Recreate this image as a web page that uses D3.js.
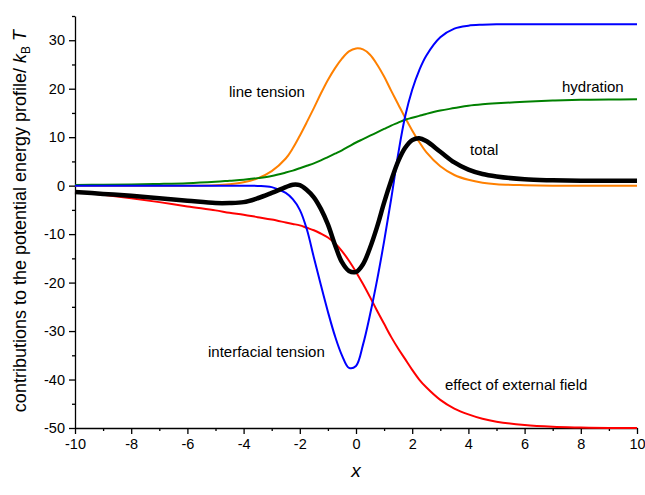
<!DOCTYPE html>
<html>
<head>
<meta charset="utf-8">
<script src="https://cdn.jsdelivr.net/npm/d3@7"></script>
<style>
  body { margin: 0; background: #fff; }
  svg { font-family: "Liberation Sans", Arial, sans-serif; }
</style>
</head>
<body>
<svg id="svg" width="645" height="495"></svg>
<script>
const xs = [-10, -9, -8, -7, -6, -5, -4.5, -4, -3.5, -3, -2.5, -2.25, -2, -1.75, -1.5, -1.25, -1, -0.75, -0.5, -0.25,
  0, 0.25, 0.5, 0.75, 1, 1.25, 1.5, 1.75, 2, 2.25, 2.5, 3, 3.5, 4, 4.5, 5, 6, 7, 8, 9, 10];

const lineTension = [0, 0, 0, 0, 0, 0.1, 0.3, 0.7, 1.5, 3.0, 5.6, 7.7, 10.3, 13.1, 16.0, 19.0, 21.8, 24.2, 26.2, 27.7,
  28.3, 28.1, 27.0, 25.0, 22.5, 19.6, 16.8, 14.0, 11.4, 9.0, 6.9, 4.0, 2.2, 1.2, 0.6, 0.3, 0.1, 0, 0, 0, 0];

const hydration = [0.15, 0.2, 0.25, 0.35, 0.5, 0.8, 1.0, 1.2, 1.55, 2.0, 2.7, 3.1, 3.6, 4.1, 4.6, 5.2, 5.9, 6.6, 7.3, 8.1,
  8.9, 9.6, 10.3, 11.0, 11.7, 12.4, 13.0, 13.6, 14.0, 14.4, 14.8, 15.5, 16.0, 16.5, 16.8, 17.0, 17.3, 17.55, 17.7, 17.75, 17.8];

const externalField = [-1.2, -1.9, -2.6, -3.4, -4.3, -5.1, -5.6, -6.0, -6.5, -7.0, -7.6, -7.9, -8.2, -8.7, -9.2, -9.9, -10.7, -11.9, -13.5, -15.5,
  -17.8, -20.3, -23.0, -25.8, -28.5, -31.2, -33.6, -35.8, -38.0, -40.0, -41.6, -44.2, -46.0, -47.2, -48.1, -48.7, -49.4, -49.75, -49.9, -50, -50];

const interfacialTension = [0, 0, 0, 0, 0, 0, 0, 0, -0.05, -0.3, -1.5, -2.8, -5.0, -9.0, -14.8, -20.5, -26.0, -31.0, -35.0, -37.6,
  -37.2, -32.8, -26.6, -19.5, -11.5, -2.8, 6.5, 14.3, 19.8, 23.8, 26.8, 30.6, 32.4, 33.0, 33.2, 33.3, 33.3, 33.3, 33.3, 33.3, 33.3];

const total = [-1.3, -1.7, -2.1, -2.6, -3.1, -3.6, -3.6, -3.4, -2.6, -1.5, -0.3, 0.2, 0.1, -0.9, -2.4, -4.8, -8.0, -12.2, -15.8, -17.6,
  -17.8, -16.2, -12.8, -8.5, -3.5, 1.0, 5.0, 7.8, 9.4, 9.8, 9.2, 7.0, 4.8, 3.3, 2.4, 1.9, 1.3, 1.1, 1.0, 1.0, 1.0];

const xTicks = [-10, -8, -6, -4, -2, 0, 2, 4, 6, 8, 10];
const yTicks = [-50, -40, -30, -20, -10, 0, 10, 20, 30];

const svg = d3.select("#svg");

const x = d3.scaleLinear().domain([-10, 10]).range([75, 637]);
const y = d3.scaleLinear().domain([-50, 35]).range([428, 16]);

// axes: major ticks labelled, minor ticks in between
svg.append("g").attr("transform", "translate(0,428)")
  .call(d3.axisBottom(x).tickValues(xTicks).tickSize(6).tickSizeOuter(0).tickPadding(5).tickFormat(d => String(d)));
svg.append("g").attr("transform", "translate(0,428)")
  .call(d3.axisBottom(x).tickValues(d3.range(-9, 10, 2)).tickSize(3).tickFormat(""))
  .select(".domain").remove();

svg.append("g").attr("transform", "translate(75,0)")
  .call(d3.axisLeft(y).tickValues(yTicks).tickSize(6).tickSizeOuter(0).tickPadding(4).tickFormat(d => String(d)));
svg.append("g").attr("transform", "translate(75,0)")
  .call(d3.axisLeft(y).tickValues([-45, -35, -25, -15, -5, 5, 15, 25, 35]).tickSize(3).tickFormat(""))
  .select(".domain").remove();

svg.selectAll(".domain, .tick line").attr("stroke", "#000").attr("stroke-width", 1.3);
svg.selectAll(".tick text").attr("font-size", 14.5).attr("fill", "#000").attr("font-family", "Liberation Sans, Arial, sans-serif");

// curves
const line = d3.line()
  .x((d, i) => x(xs[i]))
  .y(d => y(d))
  .curve(d3.curveCatmullRom);

const series = [
  { values: lineTension, color: "#ff8000", width: 2 },
  { values: hydration, color: "#008000", width: 2 },
  { values: externalField, color: "#ff0000", width: 2 },
  { values: interfacialTension, color: "#0000ff", width: 2 },
  { values: total, color: "#000000", width: 4.5 }
];

svg.selectAll("path.curve")
  .data(series)
  .enter()
  .append("path")
  .attr("class", "curve")
  .attr("d", d => line(d.values))
  .attr("fill", "none")
  .attr("stroke", d => d.color)
  .attr("stroke-width", d => d.width)
  .attr("stroke-linejoin", "round");

// curve labels
const labels = [
  { text: "line tension", x: 229, y: 97 },
  { text: "hydration", x: 562, y: 92 },
  { text: "total", x: 470, y: 155 },
  { text: "interfacial tension", x: 208, y: 357 },
  { text: "effect of external field", x: 445, y: 390 }
];
svg.selectAll("text.lab")
  .data(labels)
  .enter()
  .append("text")
  .attr("class", "lab")
  .attr("x", d => d.x)
  .attr("y", d => d.y)
  .attr("font-size", 15)
  .text(d => d.text);

// axis titles
svg.append("text")
  .attr("x", 356)
  .attr("y", 477)
  .attr("text-anchor", "middle")
  .attr("font-size", 19)
  .attr("font-style", "italic")
  .text("x");

const yTitle = svg.append("text")
  .attr("transform", "translate(26,221) rotate(-90)")
  .attr("text-anchor", "middle")
  .attr("font-size", 18);
yTitle.append("tspan").text("contributions to the potential energy profile/ ");
yTitle.append("tspan").attr("font-style", "italic").text("k");
yTitle.append("tspan").attr("font-size", 12).attr("dy", 4).text("B");
yTitle.append("tspan").attr("dy", -4).text(" ");
yTitle.append("tspan").attr("font-style", "italic").text("T");
</script>
</body>
</html>
